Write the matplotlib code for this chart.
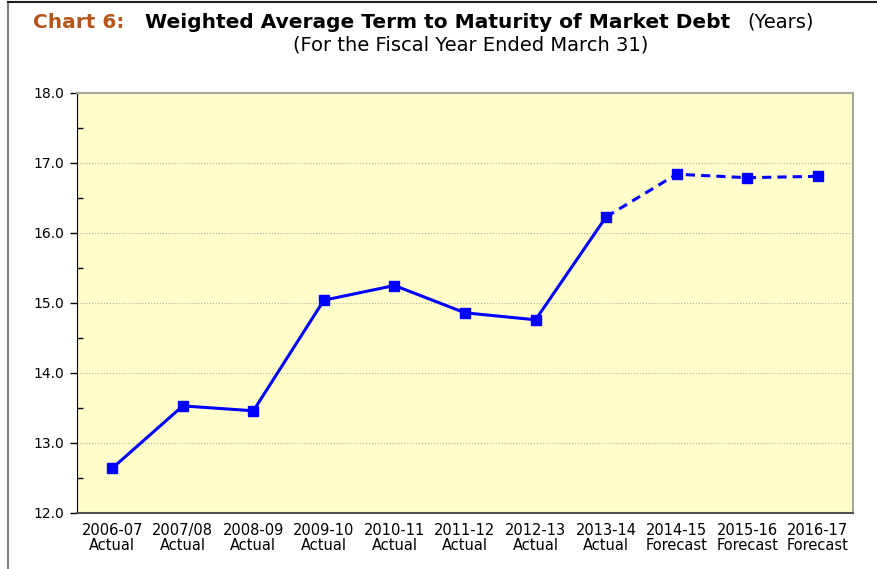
import matplotlib
matplotlib.use('Agg')
from matplotlib import pyplot as plt
from matplotlib.lines import Line2D

# data
years = ['2006-07', '2007/08', '2008-09', '2009-10', '2010-11', '2011-12',
         '2012-13', '2013-14', '2014-15', '2015-16', '2016-17']
status = ['Actual'] * 8 + ['Forecast'] * 3
term_years = [12.64, 13.53, 13.46, 15.04, 15.25, 14.86, 14.76, 16.23,
              16.84, 16.79, 16.81]
n_actual = 8

W, H = 878, 569
fig = plt.figure(figsize=(W / 100, H / 100), dpi=100)


def px(x, y):
    # pixel coords (top-left origin) -> figure fraction
    return x / W, 1 - y / H


ax = fig.add_axes([77 / W, 1 - 513 / H, (853 - 77) / W, (513 - 93) / H])
ax.set_facecolor('#FFFDCA')

x = list(range(len(years)))
blue = '#0000FF'
ax.plot(x[:n_actual], term_years[:n_actual], color=blue, lw=2.2,
        marker='s', ms=7, zorder=3)
ax.plot(x[n_actual - 1:], term_years[n_actual - 1:], color=blue, lw=2.2,
        ls=(0, (3, 2)), marker='s', ms=7, markevery=list(range(1, 4)), zorder=3)

ax.set_xlim(-0.5, len(years) - 0.5)
ax.set_ylim(12, 18)
ax.set_yticks([12, 13, 14, 15, 16, 17, 18])
ax.set_yticks([12.5, 13.5, 14.5, 15.5, 16.5, 17.5], minor=True)
ax.set_yticklabels(['%.1f' % v for v in ax.get_yticks()], fontsize=10)
ax.set_xticks(x)
ax.set_xticklabels([y + '\n' + s for y, s in zip(years, status)],
                   fontsize=10.5, linespacing=1.05)
ax.tick_params(axis='x', length=0, pad=7)
ax.tick_params(axis='y', which='major', length=5, width=1, direction='out', pad=4)
ax.tick_params(axis='y', which='minor', length=4, width=1, direction='in')
ax.yaxis.grid(True, color='#B0B0A0', ls=':', lw=0.8)

for side in ['top', 'right']:
    ax.spines[side].set_color('#A8A8A0')
    ax.spines[side].set_linewidth(1.5)
ax.spines['left'].set_color('black')
ax.spines['bottom'].set_color('#505050')
ax.spines['bottom'].set_linewidth(1.5)

# outer frame (left and top edges)
fig.add_artist(Line2D([8 / W, 8 / W], [0, 1 - 2 / H], color='#808080',
                      lw=1.5, transform=fig.transFigure))
fig.add_artist(Line2D([8 / W, 1], [1 - 2 / H, 1 - 2 / H], color='#202020',
                      lw=1.5, transform=fig.transFigure))

# title
fig.text(*px(33, 22), 'Chart 6:', color='#B5561A', fontsize=14.5,
         fontweight='bold', va='center', ha='left')
fig.text(*px(145, 22), 'Weighted Average Term to Maturity of Market Debt',
         fontsize=14.5, fontweight='bold', va='center', ha='left')
fig.text(*px(814, 22), '(Years)', fontsize=14, va='center', ha='right')
fig.text(*px(471, 45), '(For the Fiscal Year Ended March 31)', fontsize=14,
         va='center', ha='center')

fig.savefig('out.png', dpi=100, facecolor='white')
